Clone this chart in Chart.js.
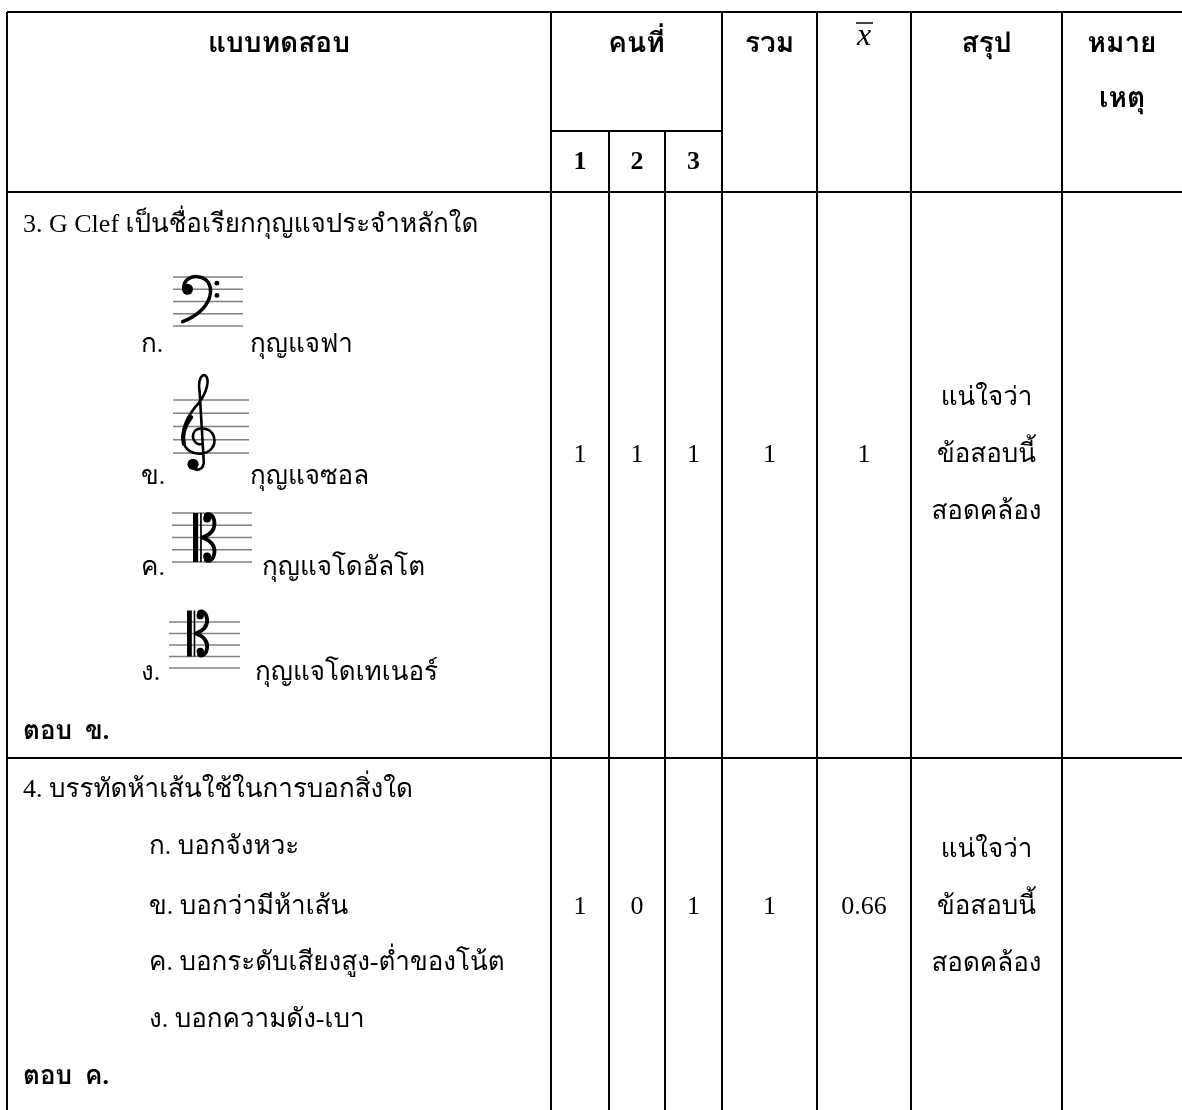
<!DOCTYPE html>
<html>
<head>
<meta charset="utf-8">
<script src="https://cdn.jsdelivr.net/npm/chart.js@4.4.1/dist/chart.umd.min.js"></script>
<style>
body { margin: 0; background: #fff; }
canvas { display: block; }
</style>
</head>
<body>
<canvas id="table" width="1182" height="1110"></canvas>
<script>
// ---- table content ----
const headers = ['แบบทดสอบ', 'คนที่', 'รวม', 'x', 'สรุป'];
const noteHeader = ['หมาย', 'เหตุ'];
const raters = ['1', '2', '3'];
const questions = ['3. G Clef เป็นชื่อเรียกกุญแจประจำหลักใด', '4. บรรทัดห้าเส้นใช้ในการบอกสิ่งใด'];
const optionLetters = ['ก.', 'ข.', 'ค.', 'ง.'];
const clefNames = ['กุญแจฟา', 'กุญแจซอล', 'กุญแจโดอัลโต', 'กุญแจโดเทเนอร์'];
const clefTypes = ['bass', 'treble', 'alto', 'tenor'];
const staffOptions = ['บอกจังหวะ', 'บอกว่ามีห้าเส้น', 'บอกระดับเสียงสูง-ต่ำของโน้ต', 'บอกความดัง-เบา'];
const answers = ['ตอบ  ข.', 'ตอบ  ค.'];
const scores = [[1, 1, 1], [1, 0, 1]];
const totals = [1, 1];
const means = ['1', '0.66'];
const verdict = ['แน่ใจว่า', 'ข้อสอบนี้', 'สอดคล้อง'];

// ---- layout ----
const W = 1182, H = 1110;
const colX = [7, 551, 609, 665, 722, 817, 911, 1062, 1182];
const rowY = { top: 12, sub: 131, head: 192, sep: 758, end: 1110 };
const rowText = [
  { q: 225, opts: [345, 477, 568, 673], ans: 732, mid: 455 },
  { q: 790, opts: [847, 907, 963, 1020], ans: 1077, mid: 907 }
];
const staffs = [
  { x0: 173, x1: 243, top: 277, gap: 12.25, cx: 182, nameX: 250 },
  { x0: 173, x1: 249, top: 400, gap: 13.25, cx: 199, nameX: 250 },
  { x0: 172, x1: 252, top: 513, gap: 12.25, cx: 193, nameX: 262 },
  { x0: 169, x1: 240, top: 622, gap: 11.5, cx: 187, nameX: 255 }
];
const thai = '"Liberation Serif", "Angsana New", "TH Sarabun New", "TH SarabunPSK", "Norasi", "Kinnari", "Garuda", "Loma", "Waree", "Noto Serif Thai", "Noto Sans Thai Looped", "Noto Sans Thai", serif';
const fontBody = '26px ' + thai;
const fontBold = 'bold 26px ' + thai;
const fontHead = 'bold 28px ' + thai;

function seg(x1, y1, x2, y2, color, width) {
  return {
    data: [{ x: x1, y: y1 }, { x: x2, y: y2 }],
    showLine: true, borderColor: color, borderWidth: width,
    pointRadius: 0, fill: false
  };
}

const datasets = [];
// table rules
[rowY.top, rowY.head, rowY.sep].forEach(y => datasets.push(seg(colX[0], y, W, y, '#000', 2)));
datasets.push(seg(colX[1], rowY.sub, colX[4], rowY.sub, '#000', 2));
colX.slice(0, 8).forEach((x, i) => {
  const fromY = (i === 2 || i === 3) ? rowY.sub : rowY.top;
  datasets.push(seg(x, fromY, x, rowY.end, '#000', 2));
});
// staff lines
staffs.forEach(s => {
  for (let k = 0; k < 5; k++) {
    const y = s.top + k * s.gap;
    datasets.push(seg(s.x0, y, s.x1, y, '#808080', 1.5));
  }
});

// text items
const texts = [];
function T(text, x, y, font, align) { texts.push({ text, x, y, font, align: align || 'center' }); }
const mid = (a, b) => (a + b) / 2;
T(headers[0], mid(colX[0], colX[1]), 45, fontHead);
T(headers[1], mid(colX[1], colX[4]), 45, fontHead);
T(headers[2], mid(colX[4], colX[5]), 45, fontHead);
T(headers[4], mid(colX[6], colX[7]), 45, fontHead);
T(noteHeader[0], mid(colX[7], colX[8]), 45, fontHead);
T(noteHeader[1], mid(colX[7], colX[8]), 100, fontHead);
raters.forEach((r, i) => T(r, mid(colX[1 + i], colX[2 + i]), 162, 'bold 26px "Liberation Serif", serif'));

questions.forEach((q, r) => {
  const L = rowText[r];
  T(q, 23, L.q, fontBody, 'left');
  T(answers[r], 23, L.ans, fontBold, 'left');
  scores[r].forEach((v, i) => T(String(v), mid(colX[1 + i], colX[2 + i]), L.mid, fontBody));
  T(String(totals[r]), mid(colX[4], colX[5]), L.mid, fontBody);
  T(means[r], mid(colX[5], colX[6]), L.mid, fontBody);
  verdict.forEach((v, k) => T(v, mid(colX[6], colX[7]), L.mid + (k - 1) * 57, fontBody));
});
optionLetters.forEach((o, i) => {
  T(o, 141, rowText[0].opts[i], fontBody, 'left');
  T(clefNames[i], staffs[i].nameX, rowText[0].opts[i], fontBody, 'left');
  T(o + ' ' + staffOptions[i], 149, rowText[1].opts[i], fontBody, 'left');
});

const textPlugin = {
  id: 'cellText',
  afterDatasetsDraw(chart) {
    const ctx = chart.ctx, xs = chart.scales.x, ys = chart.scales.y;
    ctx.save();
    ctx.fillStyle = '#000';
    ctx.textBaseline = 'middle';
    texts.forEach(t => {
      ctx.font = t.font;
      ctx.textAlign = t.align;
      ctx.fillText(t.text, xs.getPixelForValue(t.x), ys.getPixelForValue(t.y));
    });
    // x-bar header
    const bx = xs.getPixelForValue(mid(colX[5], colX[6]));
    ctx.font = 'italic 32px "Liberation Serif", serif';
    ctx.textAlign = 'center';
    ctx.fillText(headers[3], bx, ys.getPixelForValue(37));
    ctx.lineWidth = 1.5;
    ctx.beginPath();
    ctx.moveTo(bx - 8, ys.getPixelForValue(23));
    ctx.lineTo(bx + 9, ys.getPixelForValue(23));
    ctx.stroke();
    ctx.restore();
  }
};

const clefPlugin = {
  id: 'clefs',
  afterDatasetsDraw(chart) {
    const ctx = chart.ctx, xs = chart.scales.x, ys = chart.scales.y;
    ctx.save();
    ctx.fillStyle = '#000';
    ctx.strokeStyle = '#000';
    ctx.lineCap = 'round';
    ctx.lineJoin = 'round';
    clefTypes.forEach((type, i) => {
      const st = staffs[i], s = st.gap;
      let ox = st.cx, oy;
      const P = (u, v) => [xs.getPixelForValue(ox + u * s), ys.getPixelForValue(oy + v * s)];
      const M = (u, v) => ctx.moveTo(...P(u, v));
      const C = (a, b, c, d, e, f) => ctx.bezierCurveTo(...P(a, b), ...P(c, d), ...P(e, f));
      const dot = (u, v, r) => { ctx.beginPath(); ctx.arc(...P(u, v), r * s, 0, Math.PI * 2); ctx.fill(); };
      if (type === 'bass') {
        oy = st.top;
        ctx.lineWidth = 3.5;
        dot(0.45, 1.0, 0.45);
        ctx.beginPath();
        M(0.15, 0.95);
        C(0.1, 0.1, 0.9, -0.08, 1.3, -0.02);
        C(2.3, 0.1, 2.5, 1.0, 2.2, 1.8);
        C(1.8, 2.8, 0.9, 3.3, 0.05, 3.65);
        ctx.stroke();
        dot(2.85, 0.5, 0.2);
        dot(2.85, 1.5, 0.2);
      } else if (type === 'treble') {
        oy = st.top + 3 * s;
        ctx.lineWidth = 2.6;
        ctx.beginPath();
        M(-0.55, 1.95);
        C(-0.3, 2.5, 0.45, 2.3, 0.35, 1.5);
        ctx.lineTo(...P(0.05, -3.6));
        C(-0.1, -4.5, 0.2, -5.0, 0.45, -4.85);
        C(0.85, -4.6, 0.6, -3.6, 0.0, -2.8);
        C(-0.9, -1.8, -1.3, -0.8, -1.2, 0.0);
        C(-1.1, 0.85, -0.4, 1.1, 0.15, 1.05);
        C(0.9, 1.0, 1.25, 0.4, 1.15, -0.1);
        C(1.05, -0.7, 0.5, -0.9, 0.1, -0.85);
        C(-0.45, -0.8, -0.6, -0.2, -0.3, 0.15);
        C(-0.1, 0.4, 0.2, 0.35, 0.25, 0.3);
        ctx.stroke();
        // heavier left swell of the bowl
        ctx.lineWidth = 4.2;
        ctx.beginPath();
        M(-0.6, -1.7);
        C(-1.2, -0.9, -1.3, -0.3, -1.15, 0.3);
        ctx.stroke();
        dot(-0.45, 1.85, 0.42);
      } else {
        oy = type === 'alto' ? st.top + 2 * s : st.top + s;
        ctx.fillRect(...P(0, -2), 0.42 * s, 4 * s);
        ctx.fillRect(...P(0.58, -2), 0.14 * s, 4 * s);
        ctx.lineWidth = 3.8;
        [-1, 1].forEach(d => {
          ctx.beginPath();
          M(0.8, 0);
          C(1.3, -0.2 * d, 1.8, -0.5 * d, 1.75, -1.2 * d);
          C(1.7, -1.85 * d, 1.3, -2.0 * d, 1.05, -1.85 * d);
          ctx.stroke();
          dot(1.15, -1.55 * d, 0.32);
        });
      }
    });
    ctx.restore();
  }
};

new Chart(document.getElementById('table'), {
  type: 'scatter',
  data: { datasets },
  options: {
    responsive: false,
    devicePixelRatio: 1,
    animation: false,
    events: [],
    layout: { padding: 0 },
    plugins: { legend: { display: false }, tooltip: { enabled: false } },
    scales: {
      x: { type: 'linear', min: 0, max: W, display: false },
      y: { type: 'linear', min: 0, max: H, reverse: true, display: false }
    }
  },
  plugins: [textPlugin, clefPlugin]
});
</script>
</body>
</html>
